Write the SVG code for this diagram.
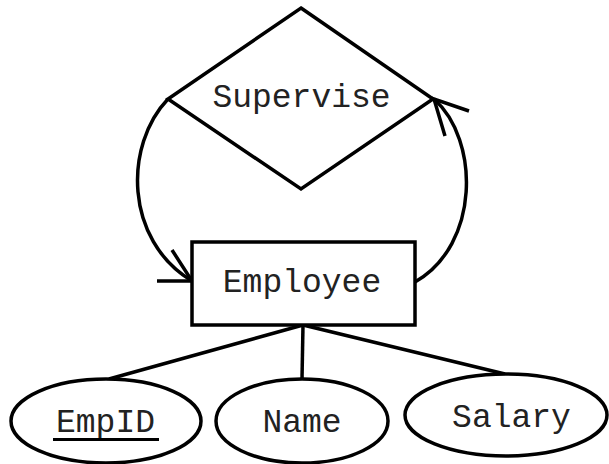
<svg xmlns="http://www.w3.org/2000/svg" width="609" height="464" viewBox="0 0 609 464">
<style>
.s{fill:#fff;stroke:#000;stroke-width:3.5}
.c{fill:none;stroke:#000;stroke-width:3.5}
.t{font-family:"Liberation Mono","Courier New",monospace;font-size:33px;fill:#222;text-anchor:middle}
</style>
<rect width="609" height="464" fill="#fff"/>
<g id="connectors">
<path class="c" d="M168,99 C124,145 124,240 192,281"/>
<path class="c" d="M172,250 L192,281 L157,281"/>
<path class="c" d="M415,282 C480,245 480,140 434,99"/>
<path class="c" d="M469,111 L434,99 L445,136"/>
<path class="c" d="M303,325 L109,379"/>
<path class="c" d="M303,325 L302,379"/>
<path class="c" d="M303,325 L505,374"/>
</g>
<g id="supervise">
<polygon class="s" points="301,8 433,99 301,189 168,99"/>
<text class="t" x="301.5" y="107">Supervise</text>
</g>
<g id="employee">
<rect class="s" x="192" y="242" width="223" height="83"/>
<text class="t" x="302" y="292">Employee</text>
</g>
<g id="empid">
<ellipse class="s" cx="106" cy="421" rx="95" ry="42"/>
<text class="t" x="105.5" y="432">EmpID</text>
<line x1="53" y1="439.5" x2="159" y2="439.5" stroke="#000" stroke-width="3"/>
</g>
<g id="name">
<ellipse class="s" cx="302" cy="421" rx="86" ry="42"/>
<text class="t" x="302" y="432">Name</text>
</g>
<g id="salary">
<ellipse class="s" cx="506" cy="415" rx="101" ry="41"/>
<text class="t" x="511.5" y="427">Salary</text>
</g>
</svg>
